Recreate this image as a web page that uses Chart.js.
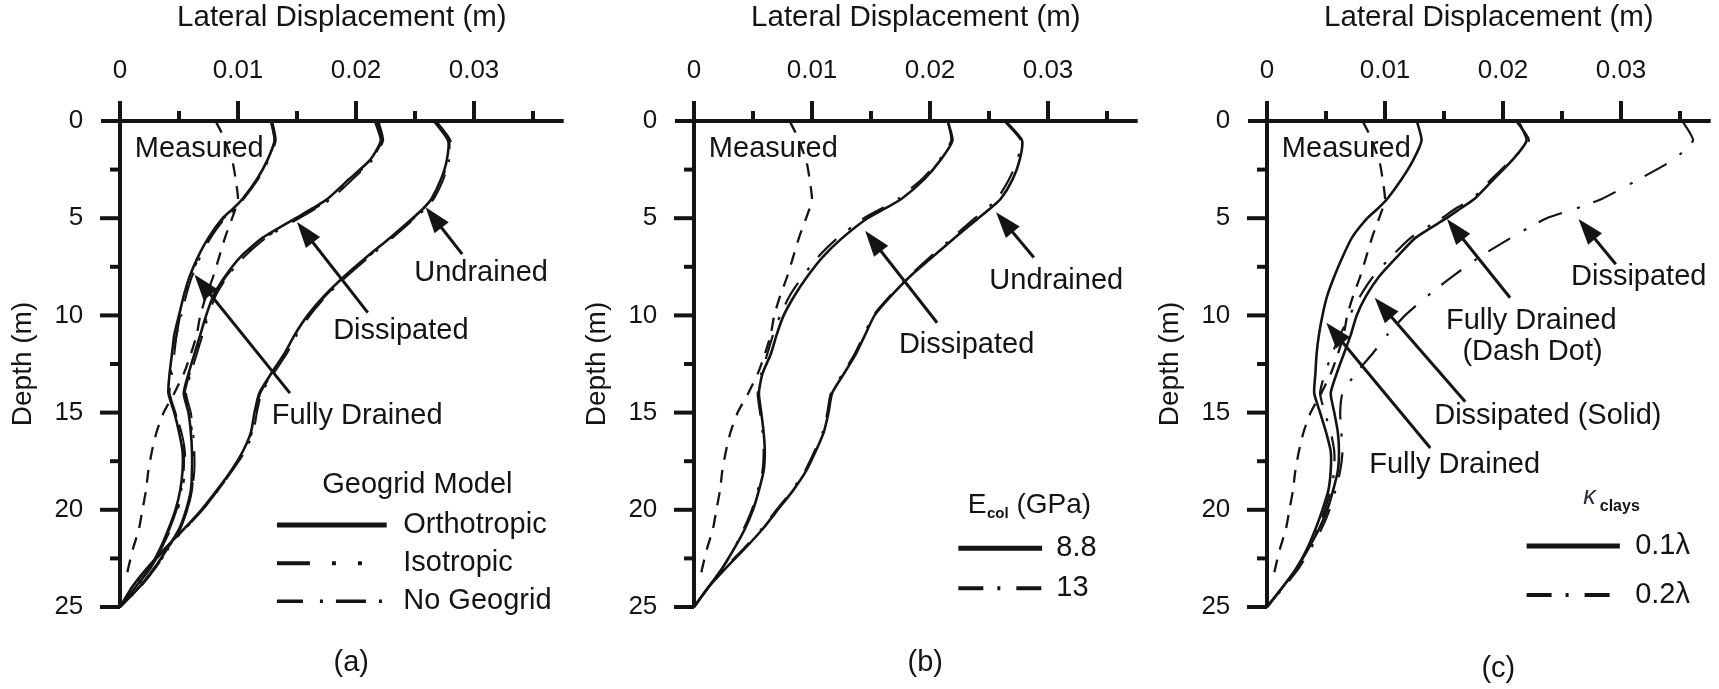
<!DOCTYPE html>
<html>
<head>
<meta charset="utf-8">
<script src="https://cdn.jsdelivr.net/npm/chart.js@4.4.1/dist/chart.umd.min.js"></script>
<style>
  html, body { margin: 0; padding: 0; background: #fff; }
  #wrap { position: relative; width: 1719px; height: 689px; overflow: hidden; background: #fff; }
  #wrap canvas { position: absolute; top: 0; }
</style>
</head>
<body>
<div id="wrap">
  <canvas id="panelA" width="574" height="689" style="left:0px"></canvas>
  <canvas id="panelB" width="573" height="689" style="left:574px"></canvas>
  <canvas id="panelC" width="572" height="689" style="left:1147px"></canvas>
</div>
<script>
// ---------------- axis ticks ----------------
const xTickValues = [0, 0.01, 0.02, 0.03];
const xMinorTicks = [0.005, 0.015, 0.025, 0.035];
const yTickValues = [0, 5, 10, 15, 20, 25];
const yMinorTicks = [2.5, 7.5, 12.5, 17.5, 22.5];

// ---------------- depths (m) ----------------
const depthModel = [0, 1, 2, 3, 4, 4.5, 5, 6, 7, 8, 9, 10, 11, 12, 13, 14, 15, 16, 17, 18, 19, 20, 21, 22, 23, 24, 25];
const depthMeasured = [0, 0.6, 2, 3, 4, 4.5, 5, 6, 7, 8, 9, 10, 11, 12, 13, 14, 15, 16, 17, 18, 19, 20, 21, 22, 23, 23.6];

// ---------------- lateral displacement (m) ----------------
const measured = [0.0081, 0.0086, 0.0095, 0.0098, 0.0100, 0.0098, 0.0095, 0.0089, 0.0084, 0.0079, 0.0073, 0.0068, 0.0065, 0.0060, 0.0054, 0.0046, 0.0037, 0.0031, 0.0027, 0.0024, 0.0022, 0.0019, 0.0016, 0.0011, 0.0007, 0.0005];

// (a) geogrid model
const fdOrtho  = [0.0128, 0.0131, 0.0125, 0.0116, 0.0104, 0.0096, 0.0087, 0.0075, 0.0066, 0.0059, 0.0054, 0.0050, 0.0046, 0.0044, 0.0042, 0.0041, 0.0046, 0.0050, 0.0053, 0.0053, 0.0051, 0.0047, 0.0041, 0.0034, 0.0025, 0.0013, 0];
const fdIso    = [0.0128, 0.0131, 0.0125, 0.0116, 0.0104, 0.0097, 0.0088, 0.0076, 0.0067, 0.0060, 0.0055, 0.0051, 0.0048, 0.0045, 0.0043, 0.0042, 0.0047, 0.0052, 0.0055, 0.0055, 0.0053, 0.0049, 0.0043, 0.0035, 0.0026, 0.0014, 0];
const fdNoGrid = [0.0129, 0.0132, 0.0126, 0.0117, 0.0105, 0.0098, 0.0089, 0.0077, 0.0068, 0.0061, 0.0056, 0.0052, 0.0048, 0.0046, 0.0044, 0.0042, 0.0047, 0.0051, 0.0054, 0.0054, 0.0052, 0.0048, 0.0042, 0.0035, 0.0026, 0.0013, 0];
const dsOrtho  = [0.0216, 0.0221, 0.0212, 0.0194, 0.0176, 0.0163, 0.0149, 0.0121, 0.0102, 0.0089, 0.0079, 0.0073, 0.0068, 0.0063, 0.0058, 0.0054, 0.0058, 0.0060, 0.0061, 0.0061, 0.0060, 0.0056, 0.0050, 0.0040, 0.0029, 0.0016, 0];
const dsIso    = [0.0218, 0.0222, 0.0213, 0.0196, 0.0178, 0.0165, 0.0151, 0.0123, 0.0104, 0.0090, 0.0080, 0.0074, 0.0069, 0.0064, 0.0059, 0.0055, 0.0059, 0.0061, 0.0062, 0.0062, 0.0061, 0.0057, 0.0050, 0.0041, 0.0030, 0.0016, 0];
const dsNoGrid = [0.0219, 0.0223, 0.0214, 0.0197, 0.0179, 0.0166, 0.0152, 0.0124, 0.0105, 0.0091, 0.0081, 0.0075, 0.0070, 0.0065, 0.0060, 0.0056, 0.0060, 0.0062, 0.0063, 0.0063, 0.0061, 0.0057, 0.0051, 0.0041, 0.0030, 0.0017, 0];
const udOrtho  = [0.0266, 0.0278, 0.0277, 0.0272, 0.0264, 0.0257, 0.0248, 0.0229, 0.0209, 0.0190, 0.0173, 0.0159, 0.0148, 0.0139, 0.0128, 0.0118, 0.0114, 0.0111, 0.0104, 0.0094, 0.0082, 0.0069, 0.0054, 0.0038, 0.0023, 0.0010, 0];
const udIso    = [0.0267, 0.0279, 0.0278, 0.0273, 0.0265, 0.0258, 0.0249, 0.0230, 0.0210, 0.0191, 0.0174, 0.0160, 0.0149, 0.0140, 0.0129, 0.0119, 0.0115, 0.0112, 0.0105, 0.0095, 0.0083, 0.0070, 0.0055, 0.0039, 0.0023, 0.0010, 0];
const udNoGrid = [0.0268, 0.0280, 0.0279, 0.0274, 0.0266, 0.0259, 0.0250, 0.0231, 0.0211, 0.0192, 0.0175, 0.0161, 0.0150, 0.0141, 0.0130, 0.0120, 0.0116, 0.0113, 0.0106, 0.0095, 0.0083, 0.0070, 0.0055, 0.0039, 0.0024, 0.0011, 0];

// (b) column modulus
const dsE88 = [0.0215, 0.0219, 0.0209, 0.0195, 0.0176, 0.0162, 0.0147, 0.0126, 0.0109, 0.0096, 0.0085, 0.0076, 0.0070, 0.0065, 0.0058, 0.0055, 0.0057, 0.0059, 0.0060, 0.0059, 0.0055, 0.0050, 0.0043, 0.0034, 0.0024, 0.0012, 0];
const dsE13 = [0.0215, 0.0218, 0.0208, 0.0193, 0.0173, 0.0159, 0.0144, 0.0122, 0.0105, 0.0092, 0.0081, 0.0073, 0.0067, 0.0062, 0.0057, 0.0054, 0.0056, 0.0058, 0.0059, 0.0058, 0.0054, 0.0049, 0.0042, 0.0034, 0.0024, 0.0012, 0];
const udE88 = [0.0264, 0.0278, 0.0276, 0.0270, 0.0260, 0.0251, 0.0241, 0.0221, 0.0202, 0.0183, 0.0167, 0.0153, 0.0145, 0.0137, 0.0127, 0.0117, 0.0114, 0.0110, 0.0103, 0.0095, 0.0084, 0.0071, 0.0058, 0.0043, 0.0027, 0.0012, 0];
const udE13 = [0.0263, 0.0277, 0.0274, 0.0267, 0.0257, 0.0248, 0.0238, 0.0219, 0.0200, 0.0182, 0.0166, 0.0152, 0.0144, 0.0136, 0.0126, 0.0116, 0.0113, 0.0109, 0.0102, 0.0094, 0.0083, 0.0070, 0.0057, 0.0042, 0.0026, 0.0012, 0];

// (c) swelling index of clays
const fdK01 = [0.0127, 0.0131, 0.0124, 0.0114, 0.0102, 0.0094, 0.0085, 0.0072, 0.0064, 0.0057, 0.0051, 0.0047, 0.0044, 0.0042, 0.0041, 0.0040, 0.0045, 0.0050, 0.0054, 0.0054, 0.0052, 0.0047, 0.0041, 0.0034, 0.0025, 0.0013, 0];
const fdK02 = [0.0211, 0.0222, 0.0207, 0.0190, 0.0174, 0.0160, 0.0148, 0.0122, 0.0105, 0.0090, 0.0079, 0.0070, 0.0062, 0.0055, 0.0049, 0.0045, 0.0049, 0.0054, 0.0057, 0.0057, 0.0054, 0.0049, 0.0043, 0.0035, 0.0025, 0.0013, 0];
const dsK01 = [0.0213, 0.0220, 0.0208, 0.0192, 0.0176, 0.0164, 0.0152, 0.0126, 0.0110, 0.0095, 0.0084, 0.0076, 0.0071, 0.0065, 0.0059, 0.0054, 0.0057, 0.0060, 0.0061, 0.0060, 0.0056, 0.0051, 0.0044, 0.0035, 0.0025, 0.0013, 0];
const dsK02 = [0.0352, 0.0361, 0.0344, 0.0315, 0.0284, 0.0262, 0.0237, 0.0207, 0.0180, 0.0157, 0.0136, 0.0117, 0.0102, 0.0089, 0.0075, 0.0064, 0.0062, 0.0063, 0.0064, 0.0062, 0.0058, 0.0053, 0.0046, 0.0037, 0.0027, 0.0014, 0];

// ---------------- look ----------------
const INK = '#141414';
const FONT = '"Liberation Sans", Arial, sans-serif';
const LABEL_FONT = `29px ${FONT}`;
const X_END = 0.0376;          // right end of the displacement axis
const AREA_LEFT = 120;         // pixel position of zero displacement inside each canvas
const AREA_TOP = 121;          // pixel position of zero depth
const AREA_BOTTOM = 607;       // pixel position of 25 m depth
const AREA_WIDTH = 443.7;      // 0 .. X_END

Chart.defaults.font.family = FONT;
Chart.defaults.font.size = 26;
Chart.defaults.color = INK;

const SOLID = { borderWidth: 2.6 };
const DASHED = { borderWidth: 2.3, borderDash: [13, 10] };
const DASH_DOT_DOT = { borderWidth: 2, borderDash: [33, 22, 4, 22, 4, 26] };
const LONG_DASH_DOT = { borderWidth: 2, borderDash: [26, 17, 3, 13, 30, 13, 3, 13] };
const DASH_DOT = { borderWidth: 2.2, borderDash: [25, 14, 3, 16] };

function profile(label, disp, depth, style) {
  return Object.assign({
    label,
    data: disp.map((v, i) => ({ x: v, y: depth[i] })),
    showLine: true, pointRadius: 0, borderColor: INK, backgroundColor: INK,
    tension: 0.2, clip: false, fill: false
  }, style);
}

// ---------------- annotations per panel ----------------
const panelDecor = {
  panelA: {
    letter: { text: '(a)', x: 0.0196, y: 27.9 },
    texts: [
      { text: 'Measured', x: 0.00125, y: 1.43, align: 'left' },
      { text: 'Undrained', x: 0.0306, y: 7.8 },
      { text: 'Dissipated', x: 0.0238, y: 10.8 },
      { text: 'Fully Drained', x: 0.0201, y: 15.2 },
      { text: 'Geogrid Model', x: 0.0252, y: 18.72 }
    ],
    arrows: [
      [0.0290, 6.85, 0.0259, 4.44],
      [0.0210, 9.86, 0.0150, 5.2],
      [0.0144, 14.0, 0.0063, 7.9]
    ],
    legend: {
      x1: 0.0133, x2: 0.0226, tx: 0.0240,
      rows: [
        { dataset: 1, width: 5, y: 20.78, text: 'Orthotropic' },
        { dataset: 2, width: 4, y: 22.75, text: 'Isotropic' },
        { dataset: 3, width: 3.5, y: 24.7, text: 'No Geogrid' }
      ]
    }
  },
  panelB: {
    letter: { text: '(b)', x: 0.0196, y: 27.9 },
    texts: [
      { text: 'Measured', x: 0.00126, y: 1.43, align: 'left' },
      { text: 'Undrained', x: 0.0307, y: 8.23 },
      { text: 'Dissipated', x: 0.0231, y: 11.54 }
    ],
    arrows: [
      [0.0288, 7.02, 0.0256, 4.7],
      [0.0206, 10.38, 0.0145, 5.65]
    ],
    legend: {
      x1: 0.0224, x2: 0.0295, tx: 0.0307,
      title: { x: 0.0232, y: 20.17, runs: [
        { text: 'E', font: `28px ${FONT}` },
        { text: 'col', font: `bold 15px ${FONT}`, dy: 5, dx: 0.5 },
        { text: ' (GPa)', font: `28px ${FONT}` }
      ] },
      rows: [
        { dataset: 1, width: 5, y: 21.98, text: '8.8' },
        { dataset: 2, width: 4, y: 24.04, text: '13' }
      ]
    }
  },
  panelC: {
    letter: { text: '(c)', x: 0.0196, y: 28.2 },
    texts: [
      { text: 'Measured', x: 0.00126, y: 1.43, align: 'left' },
      { text: 'Dissipated', x: 0.0315, y: 8.05 },
      { text: 'Fully Drained', x: 0.0224, y: 10.29 },
      { text: '(Dash Dot)', x: 0.0225, y: 11.9 },
      { text: 'Dissipated (Solid)', x: 0.0238, y: 15.2 },
      { text: 'Fully Drained', x: 0.0159, y: 17.7 }
    ],
    arrows: [
      [0.02956, 7.37, 0.0264, 5.04],
      [0.0206, 9.09, 0.01525, 5.04],
      [0.0168, 14.44, 0.00912, 9.09],
      [0.01384, 16.82, 0.00503, 10.38]
    ],
    legend: {
      x1: 0.0220, x2: 0.0299, tx: 0.0312,
      title: { x: 0.0268, y: 19.7, runs: [
        { text: 'κ', font: `italic 25px ${FONT}`, color: '#2a2a3a' },
        { text: 'clays', font: `bold 16px ${FONT}`, dy: 7, dx: 4 }
      ] },
      rows: [
        { dataset: 1, width: 5, y: 21.86, text: '0.1λ' },
        { dataset: 2, width: 4, y: 24.38, text: '0.2λ' }
      ]
    }
  }
};

function strokeLine(ctx, x1, y1, x2, y2) {
  ctx.beginPath(); ctx.moveTo(x1, y1); ctx.lineTo(x2, y2); ctx.stroke();
}

function drawArrow(ctx, x1, y1, x2, y2) {
  const ang = Math.atan2(y2 - y1, x2 - x1);
  const len = 26, half = 9;
  const bx = x2 - len * Math.cos(ang), by = y2 - len * Math.sin(ang);
  ctx.lineWidth = 3;
  strokeLine(ctx, x1, y1, bx + 2 * Math.cos(ang), by + 2 * Math.sin(ang));
  ctx.beginPath();
  ctx.moveTo(x2, y2);
  ctx.lineTo(bx + half * Math.sin(ang), by - half * Math.cos(ang));
  ctx.lineTo(bx - half * Math.sin(ang), by + half * Math.cos(ang));
  ctx.closePath();
  ctx.fill();
}

const decorPlugin = {
  id: 'decor',
  afterDatasetsDraw(chart) {
    const spec = panelDecor[chart.canvas.id];
    const ctx = chart.ctx;
    const sx = chart.scales.x, sy = chart.scales.y;
    const X = v => sx.getPixelForValue(v);
    const Y = v => sy.getPixelForValue(v);
    ctx.save();
    ctx.strokeStyle = INK; ctx.fillStyle = INK;
    ctx.lineCap = 'butt'; ctx.setLineDash([]);

    // axes crossing at zero displacement / zero depth, ticks pointing outward
    const x0 = X(0), y0 = Y(0);
    ctx.lineWidth = 4;
    strokeLine(ctx, x0 - 19, y0, X(X_END), y0);
    strokeLine(ctx, x0, y0 - 20, x0, Y(25));
    xTickValues.forEach(v => { if (v > 0) strokeLine(ctx, X(v), y0, X(v), y0 - 20); });
    xMinorTicks.forEach(v => strokeLine(ctx, X(v), y0, X(v), y0 - 10));
    yTickValues.forEach(v => { if (v > 0) strokeLine(ctx, x0, Y(v), x0 - 20, Y(v)); });
    yMinorTicks.forEach(v => strokeLine(ctx, x0, Y(v), x0 - 10, Y(v)));

    // curve labels
    ctx.font = LABEL_FONT;
    ctx.textBaseline = 'middle';
    spec.texts.forEach(t => {
      ctx.textAlign = t.align || 'center';
      ctx.fillText(t.text, X(t.x), Y(t.y));
    });
    ctx.textAlign = 'center';
    ctx.fillText(spec.letter.text, X(spec.letter.x), Y(spec.letter.y));

    // pointers
    spec.arrows.forEach(a => drawArrow(ctx, X(a[0]), Y(a[1]), X(a[2]), Y(a[3])));

    // key
    const lg = spec.legend;
    if (lg.title) {
      let px = X(lg.title.x);
      const base = Y(lg.title.y);
      ctx.textAlign = 'left'; ctx.textBaseline = 'alphabetic';
      lg.title.runs.forEach(r => {
        ctx.font = r.font;
        ctx.fillStyle = r.color || INK;
        px += r.dx || 0;
        ctx.fillText(r.text, px, base + (r.dy || 0));
        px += ctx.measureText(r.text).width;
      });
      ctx.fillStyle = INK;
    }
    lg.rows.forEach(r => {
      const ds = chart.data.datasets[r.dataset];
      ctx.lineWidth = r.width;
      ctx.setLineDash(ds.borderDash || []);
      strokeLine(ctx, X(lg.x1), Y(r.y), X(lg.x2), Y(r.y));
      ctx.setLineDash([]);
      ctx.font = LABEL_FONT;
      ctx.textAlign = 'left'; ctx.textBaseline = 'middle';
      ctx.fillText(r.text, X(lg.tx), Y(r.y));
    });
    ctx.restore();
  }
};

function buildPanel(canvasId, datasets) {
  const canvas = document.getElementById(canvasId);
  return new Chart(canvas, {
    type: 'scatter',
    data: { datasets },
    options: {
      responsive: false,
      animation: false,
      devicePixelRatio: 1,
      layout: { padding: { left: 0, top: 0, right: canvas.width - AREA_LEFT - AREA_WIDTH, bottom: canvas.height - AREA_BOTTOM } },
      plugins: { legend: { display: false }, tooltip: { enabled: false } },
      scales: {
        x: {
          type: 'linear', position: 'top', min: 0, max: X_END,
          grid: { display: false, drawTicks: false }, border: { display: false },
          afterBuildTicks: s => { s.ticks = xTickValues.map(v => ({ value: v })); },
          afterFit: s => { s.height = AREA_TOP; },
          ticks: { padding: 34.4, maxRotation: 0, autoSkip: false, callback: v => (v === 0 ? '0' : v.toFixed(2)) },
          title: { display: true, text: 'Lateral Displacement (m)', font: { size: 29.5 }, padding: { top: 0, bottom: 0 } }
        },
        y: {
          type: 'linear', reverse: true, min: 0, max: 25,
          grid: { display: false, drawTicks: false }, border: { display: false },
          afterBuildTicks: s => { s.ticks = yTickValues.map(v => ({ value: v })); },
          afterFit: s => { s.width = AREA_LEFT; },
          ticks: { padding: 36.7, autoSkip: false, callback: v => String(v) },
          title: { display: true, text: 'Depth (m)', font: { size: 28 }, padding: { top: 6.8, bottom: 0 } }
        }
      }
    },
    plugins: [decorPlugin]
  });
}

buildPanel('panelA', [
  profile('Measured', measured, depthMeasured, DASHED),
  profile('Fully Drained - Orthotropic', fdOrtho, depthModel, SOLID),
  profile('Fully Drained - Isotropic', fdIso, depthModel, DASH_DOT_DOT),
  profile('Fully Drained - No Geogrid', fdNoGrid, depthModel, LONG_DASH_DOT),
  profile('Dissipated - Orthotropic', dsOrtho, depthModel, SOLID),
  profile('Dissipated - Isotropic', dsIso, depthModel, DASH_DOT_DOT),
  profile('Dissipated - No Geogrid', dsNoGrid, depthModel, LONG_DASH_DOT),
  profile('Undrained - Orthotropic', udOrtho, depthModel, SOLID),
  profile('Undrained - Isotropic', udIso, depthModel, DASH_DOT_DOT),
  profile('Undrained - No Geogrid', udNoGrid, depthModel, LONG_DASH_DOT)
]);

buildPanel('panelB', [
  profile('Measured', measured, depthMeasured, DASHED),
  profile('Dissipated - 8.8 GPa', dsE88, depthModel, SOLID),
  profile('Dissipated - 13 GPa', dsE13, depthModel, DASH_DOT),
  profile('Undrained - 8.8 GPa', udE88, depthModel, SOLID),
  profile('Undrained - 13 GPa', udE13, depthModel, DASH_DOT)
]);

buildPanel('panelC', [
  profile('Measured', measured, depthMeasured, DASHED),
  profile('Fully Drained - 0.1λ', fdK01, depthModel, SOLID),
  profile('Fully Drained - 0.2λ', fdK02, depthModel, DASH_DOT),
  profile('Dissipated - 0.1λ', dsK01, depthModel, SOLID),
  profile('Dissipated - 0.2λ', dsK02, depthModel, DASH_DOT)
]);
</script>
</body>
</html>
